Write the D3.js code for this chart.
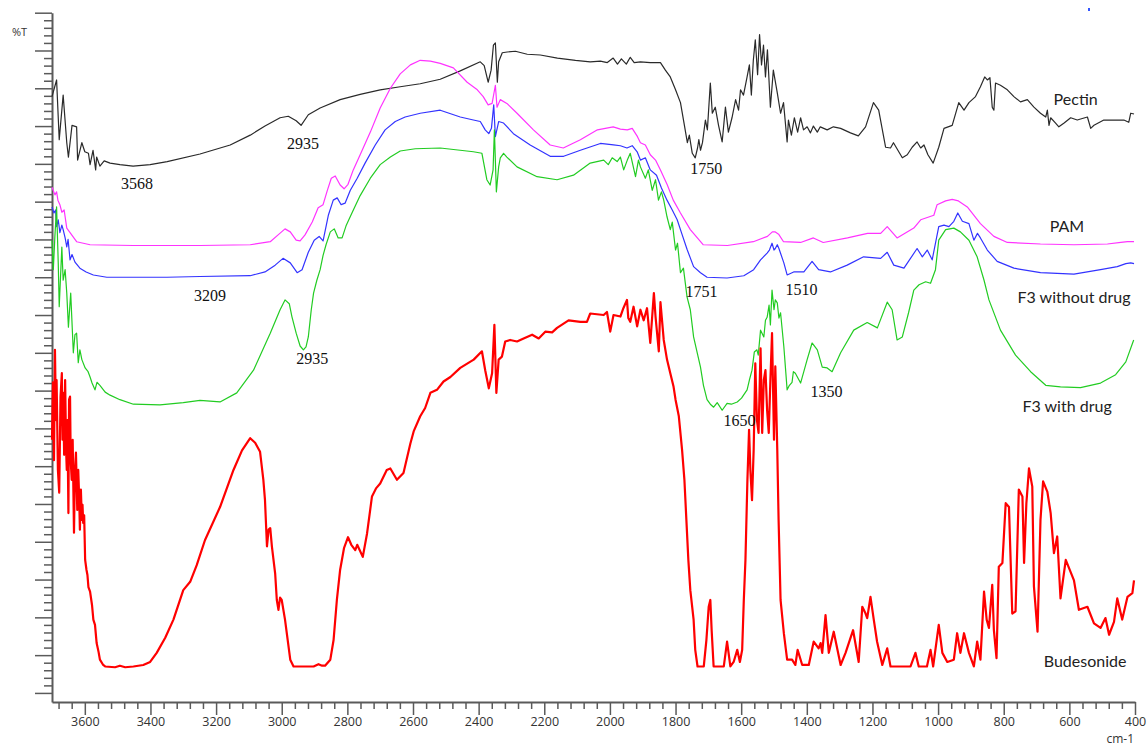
<!DOCTYPE html>
<html>
<head>
<meta charset="utf-8">
<script src="https://cdn.jsdelivr.net/npm/d3@7"></script>
<style>
  body { margin: 0; background: #fff; }
</style>
</head>
<body>
<svg id="chart" width="1148" height="747"></svg>
<script>
// FTIR spectra, [wavenumber cm-1, %T (arbitrary offset units)]
const pectin = [[3700,78.9],[3686,81.1],[3678,73.2],[3666,79.1],[3655,72.8],[3650,70.9],[3639,75.1],[3625,74.9],[3622,70.5],[3609,72.8],
  [3600,71.6],[3589,71.4],[3584,69.9],[3575,71.8],[3567,69.2],[3564,70.9],[3554,69.7],[3541,70.4],[3523,70.1],[3493,69.9],[3453,69.7],
  [3401,69.9],[3349,70.3],[3249,71.3],[3157,72.5],[3096,73.8],[3051,75.0],[3005,76.1],[2980,76.3],[2956,75.7],[2941,75.1],[2919,76.5],
  [2883,77.4],[2822,78.5],[2761,79.2],[2700,79.8],[2639,80.2],[2578,80.6],[2517,81.2],[2456,82.3],[2395,83.5],[2383,83.0],[2371,80.8],
  [2362,82.4],[2355,85.7],[2349,86.0],[2343,80.8],[2339,83.5],[2328,84.7],[2313,84.8],[2288,84.9],[2252,84.5],[2212,84.4],[2160,84.0],
  [2105,83.7],[2060,83.5],[2029,83.6],[2008,83.4],[1990,84.0],[1977,83.2],[1965,83.9],[1950,83.2],[1938,84.1],[1926,83.4],[1907,83.5],
  [1877,83.4],[1846,83.4],[1831,82.4],[1816,81.5],[1800,79.8],[1785,78.1],[1773,75.1],[1764,72.8],[1758,73.8],[1749,71.4],[1740,70.8],
  [1733,72.1],[1729,73.2],[1724,71.8],[1718,72.8],[1709,75.8],[1703,74.5],[1694,80.7],[1688,76.7],[1679,77.5],[1669,75.1],[1658,72.9],
  [1648,77.5],[1639,74.2],[1628,76.1],[1617,78.5],[1608,77.1],[1602,79.8],[1593,79.1],[1582,81.5],[1575,83.1],[1569,79.1],[1563,83.7],
  [1557,86.4],[1550,81.8],[1544,87.1],[1538,83.1],[1532,85.7],[1526,81.5],[1520,85.1],[1511,77.5],[1502,82.4],[1490,79.4],[1480,76.7],
  [1471,78.1],[1460,72.9],[1456,75.8],[1447,73.8],[1438,76.1],[1428,74.2],[1419,76.1],[1410,74.5],[1399,74.9],[1389,74.1],[1380,75.0],
  [1368,74.2],[1359,74.9],[1338,74.5],[1319,74.9],[1297,74.7],[1267,74.1],[1243,73.7],[1221,74.9],[1197,78.1],[1181,77.1],[1160,72.2],
  [1145,72.1],[1136,72.8],[1109,70.8],[1094,71.2],[1079,72.2],[1064,72.9],[1053,72.1],[1043,72.5],[1031,71.2],[1015,70.1],[998,72.2],
  [982,74.7],[957,75.1],[937,78.1],[921,77.1],[906,78.1],[886,78.9],[871,80.2],[858,81.5],[850,81.1],[842,81.4],[835,77.5],[830,77.1],
  [825,80.7],[810,80.4],[789,79.8],[769,78.9],[749,78.2],[728,78.5],[708,77.5],[688,76.7],[672,76.2],[667,77.1],[662,75.1],[657,76.1],
  [642,75.4],[632,74.9],[616,75.4],[596,76.1],[576,75.8],[545,76.2],[535,74.7],[525,75.1],[495,75.8],[464,75.8],[434,75.8],[419,75.5],
  [413,76.7],[403,76.6]];

const pam = [[3700,66.9],[3691,65.9],[3686,66.3],[3682,65.2],[3676,64.6],[3670,63.6],[3663,63.9],[3655,61.5],[3645,60.9],[3625,59.7],
  [3584,59.3],[3453,59.2],[3249,59.2],[3096,59.3],[3035,59.7],[3011,60.6],[2990,61.4],[2974,61.0],[2956,59.9],[2944,59.8],[2929,60.6],
  [2907,62.3],[2889,64.2],[2874,64.6],[2861,66.5],[2849,68.1],[2837,68.4],[2822,67.2],[2810,66.7],[2798,67.3],[2782,69.2],[2761,71.2],
  [2730,74.2],[2700,77.4],[2669,80.0],[2639,81.9],[2608,83.1],[2578,83.7],[2547,83.6],[2517,83.3],[2477,82.7],[2435,80.8],[2404,79.8],
  [2386,78.9],[2371,77.8],[2359,78.0],[2349,80.4],[2344,77.5],[2334,78.5],[2314,78.0],[2283,76.7],[2233,74.5],[2182,72.5],[2142,72.1],
  [2090,73.2],[2038,74.5],[1990,74.9],[1968,74.6],[1947,74.5],[1932,74.7],[1916,73.6],[1907,72.8],[1892,72.5],[1877,71.2],[1861,70.5],
  [1846,69.2],[1825,67.2],[1807,65.2],[1785,63.5],[1755,61.3],[1716,59.3],[1642,59.2],[1563,59.7],[1520,60.4],[1505,61.0],[1496,61.0],
  [1486,60.7],[1471,59.7],[1419,59.6],[1380,60.2],[1350,59.6],[1276,60.2],[1215,60.8],[1175,60.8],[1155,61.7],[1125,60.2],[1074,61.5],
  [1053,62.6],[1013,63.2],[1003,64.6],[977,65.1],[957,65.3],[938,65.1],[911,64.3],[871,62.1],[830,60.4],[789,59.6],[688,59.4],[586,59.3],
  [484,59.4],[443,59.6],[423,59.7],[403,59.7]];

const f3NoDrug = [[3700,64.3],[3694,63.5],[3689,63.9],[3686,61.7],[3681,62.6],[3676,60.9],[3670,61.9],[3666,61.3],[3660,60.2],[3655,59.0],
  [3651,60.0],[3645,57.3],[3639,58.0],[3630,57.0],[3615,56.2],[3596,55.7],[3574,55.3],[3533,55.0],[3350,55.0],[3249,55.1],[3096,55.2],
  [3051,55.7],[3020,56.6],[2996,57.5],[2974,56.9],[2953,55.6],[2938,56.0],[2919,58.3],[2901,59.9],[2886,60.4],[2874,59.8],[2858,63.2],
  [2843,65.2],[2831,65.5],[2819,64.6],[2807,64.8],[2791,66.5],[2770,68.1],[2746,70.1],[2715,72.5],[2685,74.5],[2654,75.6],[2624,76.2],
  [2578,76.7],[2517,77.1],[2456,76.2],[2416,75.8],[2395,75.6],[2380,74.5],[2369,74.0],[2361,74.7],[2354,77.8],[2349,73.6],[2339,75.6],
  [2324,75.4],[2294,74.0],[2243,72.5],[2182,71.0],[2141,71.0],[2090,71.8],[2029,72.7],[1989,72.5],[1968,72.4],[1948,72.1],[1932,72.4],
  [1917,71.6],[1907,70.5],[1892,70.8],[1877,69.2],[1858,68.5],[1843,66.8],[1826,65.2],[1810,63.9],[1795,62.6],[1782,60.9],[1765,58.7],
  [1745,56.4],[1724,55.6],[1704,55.0],[1643,54.9],[1592,55.2],[1562,56.0],[1541,57.3],[1521,58.2],[1514,58.6],[1506,59.5],[1500,58.6],
  [1496,58.8],[1490,59.3],[1485,58.8],[1470,56.9],[1460,55.3],[1440,55.7],[1409,55.7],[1384,57.1],[1364,56.0],[1328,55.7],[1277,56.6],
  [1227,57.7],[1175,57.5],[1155,58.3],[1135,56.6],[1104,56.2],[1064,58.8],[1048,57.7],[1033,58.6],[1018,57.3],[998,61.7],[982,61.9],
  [967,61.7],[952,62.4],[940,63.5],[926,62.4],[906,62.1],[891,59.9],[880,60.8],[871,60.2],[850,58.6],[820,57.1],[769,56.2],[688,55.6],
  [586,55.4],[505,56.0],[454,56.4],[428,56.8],[413,56.9],[403,56.8]];

const f3Drug = [[3700,59.9],[3696,56.0],[3691,60.6],[3686,64.3],[3681,56.9],[3678,51.1],[3670,59.0],[3666,54.6],[3660,56.0],[3655,52.9],
  [3650,48.4],[3643,52.9],[3635,45.0],[3630,47.4],[3625,47.6],[3620,43.7],[3615,45.4],[3609,44.1],[3599,43.0],[3590,42.5],[3584,41.8],
  [3578,41.0],[3569,40.1],[3563,41.1],[3554,40.7],[3538,39.8],[3523,39.4],[3493,38.8],[3452,38.2],[3371,38.1],[3300,38.4],[3249,38.7],
  [3188,38.5],[3137,39.7],[3086,42.7],[3035,47.6],[3005,50.7],[2990,52.0],[2977,51.5],[2969,49.8],[2956,47.6],[2944,45.9],[2934,45.4],
  [2926,45.8],[2919,47.1],[2910,50.7],[2903,52.9],[2893,54.6],[2883,56.0],[2874,57.9],[2865,59.3],[2852,61.0],[2840,61.4],[2828,60.2],
  [2816,60.2],[2804,61.8],[2785,63.6],[2761,65.8],[2730,68.1],[2700,69.9],[2669,70.9],[2639,71.7],[2593,72.0],[2517,72.1],[2416,71.6],
  [2390,71.4],[2375,67.9],[2365,67.2],[2356,69.2],[2352,74.5],[2346,66.3],[2339,69.6],[2334,70.8],[2324,71.4],[2314,70.9],[2283,69.6],
  [2222,68.3],[2161,67.9],[2111,68.5],[2060,70.1],[2019,70.5],[2005,69.9],[1993,70.8],[1978,70.3],[1968,70.9],[1958,69.2],[1947,70.5],
  [1938,71.4],[1922,68.3],[1913,70.5],[1907,69.6],[1892,68.1],[1883,69.2],[1871,66.5],[1861,67.9],[1852,65.2],[1843,66.3],[1836,65.2],
  [1826,63.0],[1816,61.3],[1810,62.3],[1800,58.6],[1794,59.5],[1785,55.6],[1776,56.2],[1765,52.4],[1755,50.7],[1745,47.1],[1736,45.4],
  [1724,43.1],[1715,40.7],[1704,38.8],[1694,38.2],[1684,37.8],[1673,38.4],[1658,37.4],[1643,38.3],[1630,38.2],[1612,38.5],[1599,39.0],
  [1582,40.1],[1575,41.4],[1567,42.7],[1560,45.1],[1552,45.4],[1548,44.7],[1541,48.0],[1531,47.1],[1526,49.3],[1521,49.7],[1515,51.3],
  [1511,48.7],[1506,53.3],[1500,50.7],[1496,52.0],[1490,51.6],[1485,49.6],[1480,50.3],[1470,45.8],[1460,40.1],[1453,40.7],[1445,41.1],
  [1441,42.5],[1435,42.3],[1419,41.0],[1399,44.1],[1384,46.3],[1368,45.4],[1353,43.1],[1338,43.0],[1323,42.5],[1297,45.0],[1257,48.0],
  [1216,49.0],[1185,48.3],[1155,51.7],[1140,50.7],[1125,46.7],[1109,47.1],[1090,50.3],[1074,53.3],[1058,54.0],[1038,54.4],[1023,54.2],
  [1008,56.0],[998,59.9],[977,61.3],[952,61.5],[932,61.0],[906,59.9],[881,57.7],[860,54.6],[845,52.0],[810,48.0],[764,44.7],[718,42.5],
  [672,40.7],[627,40.5],[566,40.4],[505,41.0],[459,42.1],[428,43.8],[404,46.7]];

const budesonide = [[3700,33.5],[3697,41.1],[3694,30.8],[3691,45.4],[3688,36.1],[3686,41.4],[3682,29.5],[3678,26.5],[3674,39.2],[3670,42.3],
  [3668,33.5],[3666,39.7],[3663,31.5],[3660,41.4],[3657,32.1],[3655,29.5],[3653,36.1],[3650,23.8],[3648,38.8],[3645,39.2],[3643,30.8],
  [3640,28.2],[3637,33.5],[3633,21.2],[3630,29.5],[3627,31.8],[3623,24.2],[3620,29.5],[3617,25.5],[3615,21.6],[3612,26.9],[3609,22.9],
  [3607,24.9],[3605,22.5],[3602,23.5],[3599,17.6],[3595,16.3],[3592,15.6],[3589,14.0],[3584,13.4],[3578,11.6],[3574,9.7],[3569,9.0],
  [3564,6.6],[3558,5.4],[3554,4.4],[3544,3.7],[3538,3.5],[3508,3.4],[3493,3.6],[3477,3.4],[3452,3.5],[3422,3.7],[3401,4.1],[3381,5.3],
  [3355,7.3],[3330,9.7],[3300,13.6],[3279,14.7],[3259,16.9],[3234,20.2],[3188,24.6],[3147,29.5],[3121,32.1],[3096,33.7],[3081,33.1],
  [3066,31.9],[3056,28.2],[3051,25.5],[3045,19.4],[3040,21.6],[3035,21.8],[3030,19.4],[3020,15.8],[3015,12.3],[3010,11.0],[3005,12.6],
  [3000,12.3],[2990,9.7],[2974,4.4],[2964,3.5],[2903,3.5],[2888,3.8],[2877,3.6],[2868,3.6],[2852,4.4],[2842,7.0],[2832,12.3],[2822,16.3],
  [2810,19.2],[2798,20.6],[2788,19.6],[2776,18.9],[2770,19.6],[2753,18.0],[2740,21.1],[2725,26.0],[2712,27.1],[2700,27.7],[2680,29.5],
  [2669,29.7],[2649,28.2],[2629,29.1],[2608,33.0],[2598,34.6],[2578,36.6],[2563,37.7],[2547,39.7],[2527,40.1],[2507,41.2],[2486,41.8],
  [2456,43.0],[2415,44.1],[2390,45.2],[2380,42.7],[2369,40.3],[2359,42.3],[2352,48.7],[2346,39.7],[2339,44.1],[2329,44.5],[2319,46.5],
  [2304,46.7],[2283,46.5],[2263,46.9],[2237,47.4],[2217,46.9],[2197,47.8],[2176,47.7],[2161,48.3],[2126,49.3],[2090,49.1],[2070,49.1],
  [2060,50.2],[2019,50.0],[2009,50.4],[1999,47.8],[1989,50.0],[1968,49.8],[1959,50.9],[1948,52.0],[1944,49.6],[1938,49.1],[1928,51.1],
  [1917,48.5],[1907,50.7],[1897,49.3],[1887,50.9],[1877,46.3],[1866,52.9],[1861,49.8],[1851,45.2],[1846,51.7],[1836,46.7],[1826,44.1],
  [1816,42.3],[1806,40.5],[1800,38.8],[1790,36.6],[1780,32.1],[1773,28.2],[1767,22.9],[1761,17.6],[1755,13.6],[1745,9.7],[1740,5.7],
  [1733,3.5],[1714,3.5],[1706,7.0],[1699,11.4],[1694,12.3],[1690,8.3],[1684,3.5],[1653,3.5],[1643,6.8],[1633,3.5],[1623,4.1],[1612,5.7],
  [1604,4.1],[1597,5.7],[1592,12.3],[1587,17.6],[1581,28.2],[1576,34.8],[1572,29.5],[1567,25.5],[1562,32.1],[1557,43.6],[1552,36.1],
  [1547,34.4],[1541,45.6],[1536,34.4],[1531,41.4],[1526,42.7],[1521,37.4],[1516,34.4],[1511,41.4],[1506,47.6],[1500,33.5],[1496,43.2],
  [1490,32.1],[1486,22.9],[1480,12.3],[1470,7.9],[1460,4.4],[1445,4.4],[1435,3.7],[1428,5.7],[1414,3.7],[1394,3.7],[1379,6.8],[1364,5.9],
  [1358,6.6],[1353,5.3],[1343,10.3],[1333,5.3],[1318,8.1],[1297,3.7],[1282,5.3],[1259,8.3],[1242,4.1],[1231,11.4],[1221,10.5],[1216,9.9],
  [1206,12.7],[1196,9.7],[1186,6.8],[1170,3.7],[1155,5.9],[1145,3.5],[1084,3.5],[1069,5.3],[1059,3.5],[1034,3.5],[1023,5.7],[1015,3.5],
  [998,9.0],[987,5.3],[972,4.1],[952,4.4],[942,7.9],[932,5.3],[921,7.9],[906,5.3],[891,3.5],[881,6.8],[871,4.4],[860,13.4],[852,9.7],
  [845,8.6],[835,14.3],[830,8.3],[822,4.6],[815,16.7],[804,17.2],[794,25.1],[784,24.6],[774,10.5],[764,10.8],[754,26.9],[743,26.0],
  [738,17.2],[731,25.1],[723,29.7],[713,27.3],[708,14.1],[697,8.1],[688,22.9],[680,28.0],[667,26.6],[657,23.8],[647,18.5],[637,20.7],
  [627,12.5],[611,17.6],[586,14.9],[571,11.0],[545,11.4],[525,9.2],[505,8.6],[490,9.9],[479,7.7],[464,9.4],[454,12.5],[439,9.7],
  [423,12.7],[408,13.2],[403,14.9]];

const seriesNames = ["Pectin", "PAM", "F3 without drug", "F3 with drug", "Budesonide"];
const seriesColors = ["#2a2a2a", "#ff33ff", "#3333ff", "#22cc22", "#ff0000"];
const seriesWidths = [1.2, 1.2, 1.2, 1.2, 2.2];
const seriesData = [pectin, pam, f3NoDrug, f3Drug, budesonide];

// legend name positions [wavenumber, %T]
const namePos = [[648, 77.8], [660, 61.0], [758, 51.6], [743, 37.2], [678, 3.4]];

// peak annotations
const peakLabels = ["3568", "2935", "1750", "3209", "1751", "1510", "2935", "1350", "1650"];
const peakPos = [[3490, 66.7], [2984, 72.0], [1755, 68.7], [3267, 51.9], [1770, 52.4], [1465, 52.7], [2956, 43.5], [1389, 39.2], [1654, 35.3]];

const xMajor = [3600, 3400, 3200, 3000, 2800, 2600, 2400, 2200, 2000, 1800, 1600, 1400, 1200, 1000, 800, 600, 400];
const yMajor = [0, 5, 10, 15, 20, 25, 30, 35, 40, 45, 50, 55, 60, 65, 70, 75, 80, 85, 90];

const svg = d3.select("#chart");

const x = d3.scaleLinear().domain([3700, 400]).range([52, 1135]);
const y = d3.scaleLinear().domain([-1.2, 90]).range([702, 12.7]);

const xMinor = d3.range(3680, 399, -40).filter(d => d % 200 !== 0);
const yMinor = d3.range(1, 90, 1).filter(d => d % 5 !== 0);

const axisColor = "#5a5a5a";

// minor ticks first
svg.append("g")
    .attr("transform", "translate(0,702)")
    .call(d3.axisBottom(x).tickValues(xMinor).tickSize(7).tickFormat(""))
    .call(g => g.select(".domain").remove());

svg.append("g")
    .attr("transform", "translate(52,0)")
    .call(d3.axisLeft(y).tickValues(yMinor).tickSize(8).tickFormat(""))
    .call(g => g.select(".domain").remove());

const xAxis = svg.append("g")
    .attr("transform", "translate(0,702)")
    .call(d3.axisBottom(x).tickValues(xMajor).tickSize(13).tickSizeOuter(0).tickPadding(2).tickFormat(d3.format("d")));

const yAxis = svg.append("g")
    .attr("transform", "translate(52,0)")
    .call(d3.axisLeft(y).tickValues(yMajor).tickSize(17).tickSizeOuter(0).tickFormat(""));

svg.selectAll(".tick line").attr("stroke", axisColor).attr("stroke-width", 1.5);
svg.selectAll(".domain").attr("stroke", axisColor).attr("stroke-width", 2);
xAxis.selectAll("text")
    .attr("fill", "#333")
    .style("font-family", "'Open Sans', 'Noto Sans', sans-serif")
    .style("font-size", "12.5px");

svg.append("text")
    .attr("x", 1134).attr("y", 743)
    .attr("text-anchor", "end")
    .attr("fill", "#333")
    .style("font-family", "'Open Sans', 'Noto Sans', sans-serif")
    .style("font-size", "12px")
    .text("cm-1");

svg.append("text")
    .attr("x", 12).attr("y", 36)
    .attr("fill", "#333")
    .style("font-family", "'Open Sans', 'Noto Sans', sans-serif")
    .style("font-size", "11px")
    .text("%T");

// small blue speck top right
svg.append("rect").attr("x", 1088).attr("y", 8).attr("width", 2).attr("height", 3).attr("fill", "#3355ff");

// spectra
const line = d3.line().x(d => x(d[0])).y(d => y(d[1]));

svg.append("g").selectAll("path")
    .data(seriesData)
    .enter().append("path")
    .attr("d", line)
    .attr("fill", "none")
    .attr("stroke", (d, i) => seriesColors[i])
    .attr("stroke-width", (d, i) => seriesWidths[i])
    .attr("stroke-linejoin", "round");

// series names
svg.append("g").selectAll("text")
    .data(seriesNames)
    .enter().append("text")
    .attr("x", (d, i) => x(namePos[i][0]))
    .attr("y", (d, i) => y(namePos[i][1]))
    .attr("fill", "#222")
    .style("font-family", "Lato, 'Open Sans', sans-serif")
    .style("font-size", "16px")
    .text(d => d);

// peak annotations
svg.append("g").selectAll("text")
    .data(peakLabels)
    .enter().append("text")
    .attr("x", (d, i) => x(peakPos[i][0]))
    .attr("y", (d, i) => y(peakPos[i][1]))
    .attr("fill", "#111")
    .style("font-family", "'Liberation Serif', 'DejaVu Serif', serif")
    .style("font-size", "16px")
    .text(d => d);
</script>
</body>
</html>
